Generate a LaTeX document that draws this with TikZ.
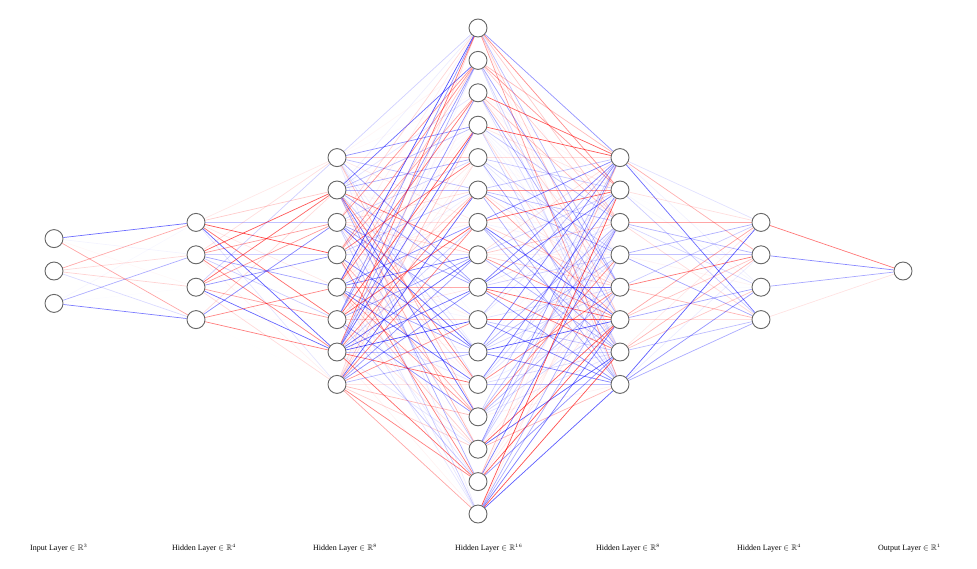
\documentclass[tikz,border=0pt]{standalone}
\usepackage{amssymb}
\usepackage{fontspec}
\setmainfont{Liberation Serif}
\usetikzlibrary{backgrounds}
\begin{document}
\begin{tikzpicture}[x=1pt,y=-1pt,
  neuron/.style={circle,draw=black!60,line width=0.9pt,fill=white,minimum size=18pt,inner sep=0pt},
  lbl/.style={font=\fontsize{8}{9}\selectfont,anchor=west,inner sep=0pt},
  edge/.style={line width=0.7pt}]
\useasboundingbox (0,0) rectangle (977,568);
\pgfmathsetseed{7}
\foreach \l/\n/\x in {1/3/54,2/4/196,3/8/337,4/16/478,5/8/620,6/4/761,7/1/903}{
  \foreach \i in {1,...,\n}{
    \node[neuron] (n\l-\i) at (\x, {271+(\i-(\n+1)/2)*32.4}) {};
  }
}
\begin{pgfonlayer}{background}
\foreach \a/\na/\b/\nb in {1/3/2/4,2/4/3/8,3/8/4/16,4/16/5/8,5/8/6/4,6/4/7/1}{
  \foreach \i in {1,...,\na}{
    \foreach \j in {1,...,\nb}{
      \pgfmathsetmacro{\op}{0.7*rnd^1.5}
      \pgfmathsetmacro{\c}{rnd}
      \ifdim\c pt>0.5pt \def\col{red}\else\def\col{blue}\fi
      \draw[edge,\col,opacity=\op] (n\a-\i) -- (n\b-\j);
    }
  }
}
\end{pgfonlayer}
\node[lbl] (t1) at (30,548) {Input Layer $\in\mathbb{R}^{\scriptscriptstyle 3}$};
\node[lbl] (t2) at (172,548) {Hidden Layer $\in\mathbb{R}^{\scriptscriptstyle 4}$};
\node[lbl] (t3) at (313,548) {Hidden Layer $\in\mathbb{R}^{\scriptscriptstyle 8}$};
\node[lbl] (t4) at (455,548) {Hidden Layer $\in\mathbb{R}^{\scriptscriptstyle 16}$};
\node[lbl] (t5) at (596,548) {Hidden Layer $\in\mathbb{R}^{\scriptscriptstyle 8}$};
\node[lbl] (t6) at (737,548) {Hidden Layer $\in\mathbb{R}^{\scriptscriptstyle 4}$};
\node[lbl] (t7) at (878,548) {Output Layer $\in\mathbb{R}^{\scriptscriptstyle 1}$};
\end{tikzpicture}
\end{document}
